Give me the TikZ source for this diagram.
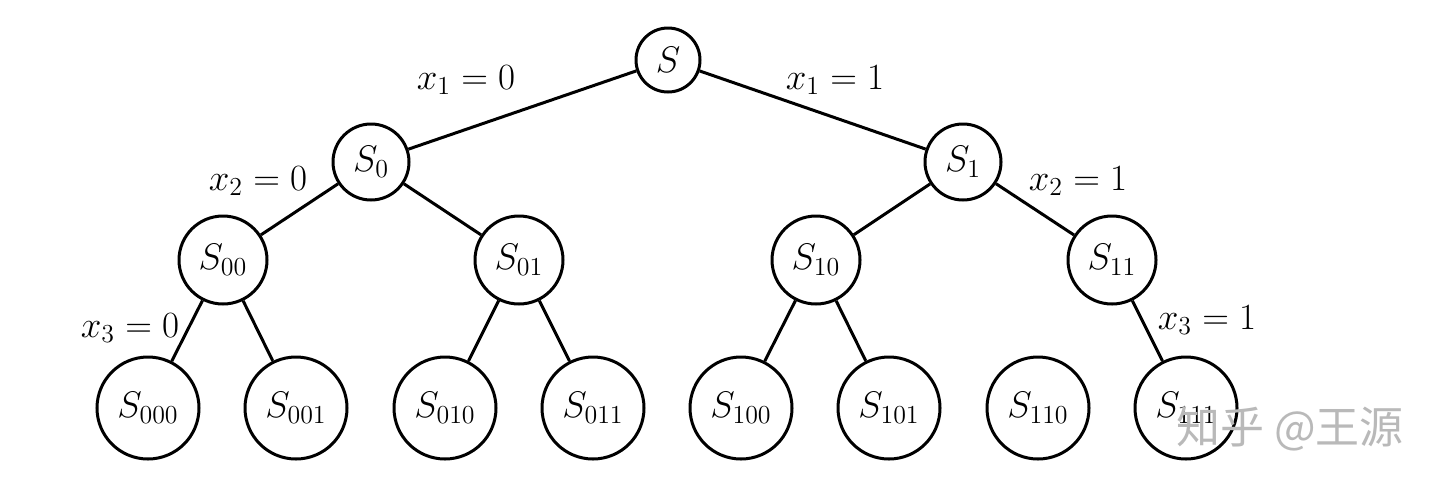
\RequirePackage{fix-cm}
\documentclass[tikz,border=0pt]{standalone}
\usepackage{fontspec}
\newfontfamily\cjk{Noto Sans CJK SC}
\begin{document}
\begin{tikzpicture}[x=0.5pt,y=-0.5pt,
  st/.style={circle,draw,line width=1.5pt,inner sep=0pt,font=\fontsize{18.5}{22}\selectfont},
  l0/.style={st,minimum size=32pt},
  l1/.style={st,minimum size=38pt},
  l2/.style={st,minimum size=44pt},
  l3/.style={st,minimum size=51pt},
  lab/.style={font=\fontsize{18.5}{22}\selectfont,inner sep=0pt},
  edge/.style={line width=1.5pt}]
\useasboundingbox (0,0) rectangle (1440,489);
\node[l0] (S) at (668,60) {$S$};
\node[l1] (S0) at (371,162) {$S_0$};
\node[l1] (S1) at (963,162) {$S_1$};
\node[l2] (S00) at (223,260) {$S_{00}$};
\node[l2] (S01) at (519,260) {$S_{01}$};
\node[l2] (S10) at (816,260) {$S_{10}$};
\node[l2] (S11) at (1112,260) {$S_{11}$};
\node[l3] (S000) at (148,408) {$S_{000}$};
\node[l3] (S001) at (296,408) {$S_{001}$};
\node[l3] (S010) at (445,408) {$S_{010}$};
\node[l3] (S011) at (593,408) {$S_{011}$};
\node[l3] (S100) at (741,408) {$S_{100}$};
\node[l3] (S101) at (889,408) {$S_{101}$};
\node[l3] (S110) at (1038,408) {$S_{110}$};
\node[l3] (S111) at (1186,408) {$S_{111}$};
\draw[edge] (S) -- (S0);
\draw[edge] (S) -- (S1);
\draw[edge] (S0) -- (S00);
\draw[edge] (S0) -- (S01);
\draw[edge] (S1) -- (S10);
\draw[edge] (S1) -- (S11);
\draw[edge] (S00) -- (S000);
\draw[edge] (S00) -- (S001);
\draw[edge] (S01) -- (S010);
\draw[edge] (S01) -- (S011);
\draw[edge] (S10) -- (S100);
\draw[edge] (S10) -- (S101);
\draw[edge] (S11) -- (S111);
\node[lab] (l1a) at (466,80) {$x_1 = 0$};
\node[lab] (l1b) at (835,80) {$x_1 = 1$};
\node[lab] (l2a) at (258,181) {$x_2 = 0$};
\node[lab] (l2b) at (1078,181) {$x_2 = 1$};
\node[lab] (l3a) at (130,328) {$x_3 = 0$};
\node[lab] (l3b) at (1207,320) {$x_3 = 1$};
\node[inner sep=0pt,text=gray!55,font=\cjk\fontsize{22}{26}\selectfont] (wm) at (1290,429) {知乎 @王源};
\end{tikzpicture}
\end{document}
